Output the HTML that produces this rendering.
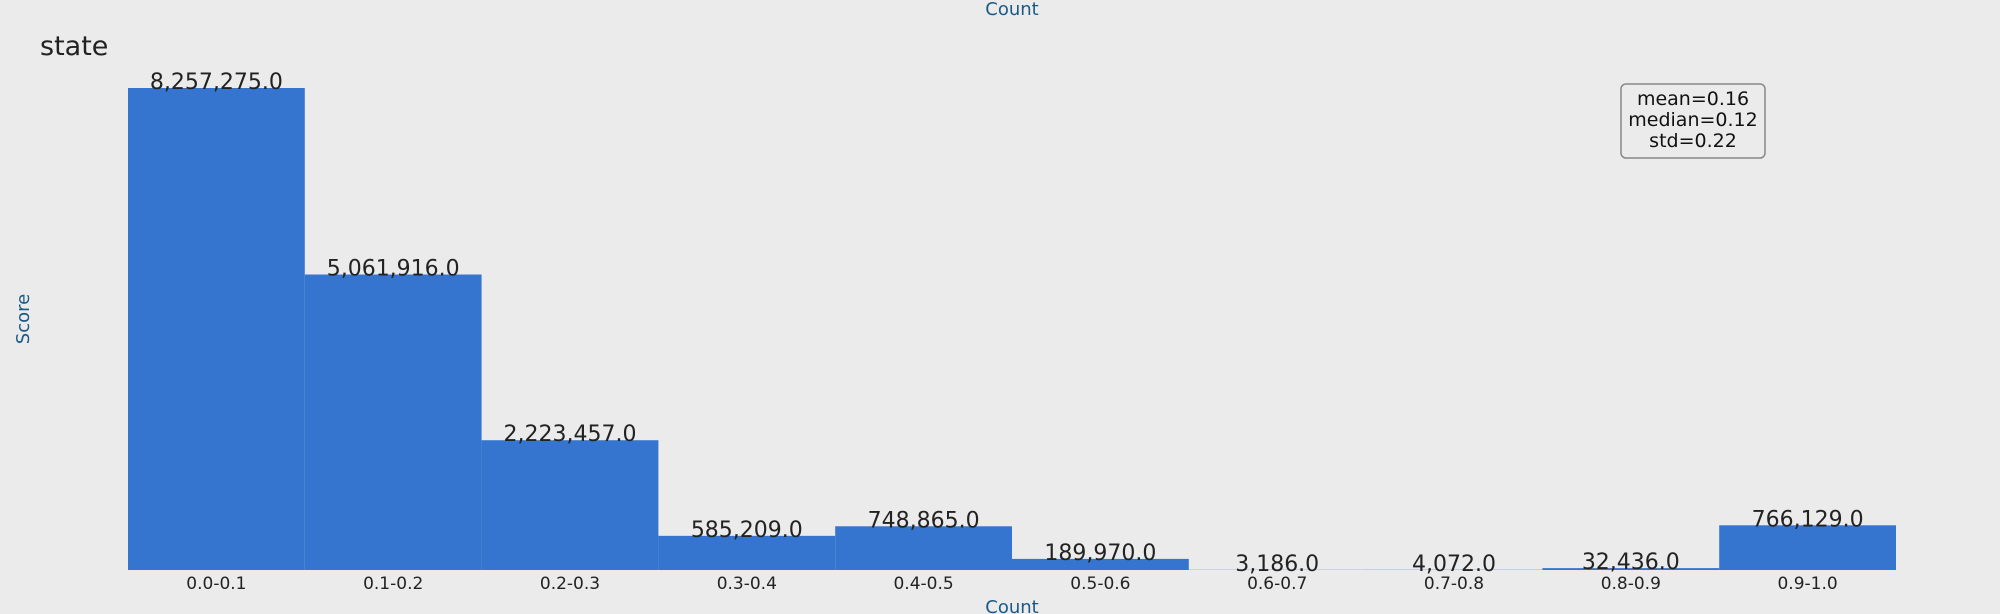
<!DOCTYPE html>
<html><head><meta charset="utf-8"><style>
html,body{margin:0;padding:0;background:#ebebeb;}
svg{display:block;font-family:"DejaVu Sans","Liberation Sans",sans-serif;}
</style></head><body>
<svg id="chart" width="2000" height="614" viewBox="0 0 2000 614">
<rect x="0" y="0" width="2000" height="614" fill="#ebebeb"/>
<text x="40" y="55" font-size="27" fill="#222">state</text>
<text x="1012" y="15" font-size="18" fill="#1a5a85" text-anchor="middle">Count</text>
<text x="1012" y="613" font-size="18" fill="#1a5a85" text-anchor="middle">Count</text>
<text x="0" y="0" font-size="18" fill="#1a5a85" text-anchor="middle" transform="translate(29,319) rotate(-90)">Score</text>
<g id="bars"></g>
<g>
<rect x="1621" y="84" width="144" height="74" rx="5" fill="#ebebeb" stroke="#888" stroke-width="1.5"/>
<text x="1693" y="105" font-size="19" fill="#111" text-anchor="middle">mean=0.16</text>
<text x="1693" y="126" font-size="19" fill="#111" text-anchor="middle">median=0.12</text>
<text x="1693" y="147" font-size="19" fill="#111" text-anchor="middle">std=0.22</text>
</g>
</svg>
<script>
const categories = ["0.0-0.1","0.1-0.2","0.2-0.3","0.3-0.4","0.4-0.5","0.5-0.6","0.6-0.7","0.7-0.8","0.8-0.9","0.9-1.0"];
const counts = [8257275,5061916,2223457,585209,748865,189970,3186,4072,32436,766129];
const valueLabels = ["8,257,275.0","5,061,916.0","2,223,457.0","585,209.0","748,865.0","189,970.0","3,186.0","4,072.0","32,436.0","766,129.0"];

const NS = "http://www.w3.org/2000/svg";
const x0 = 128, x1 = 1896, yBase = 570, yTop = 88;
const yMax = Math.max(...counts);
const bw = (x1 - x0) / categories.length;
function xScale(i){ return x0 + i * bw; }
function yScale(v){ return yBase - v / yMax * (yBase - yTop); }
const g = document.getElementById('bars');
categories.forEach((c, i) => {
  const y = yScale(counts[i]);
  const r = document.createElementNS(NS, 'rect');
  
  
  r.setAttribute('x', xScale(i));
  r.setAttribute('y', y);
  r.setAttribute('width', bw);
  r.setAttribute('height', yBase - y);
  r.setAttribute('fill', '#3575cf');
  g.appendChild(r);
  const t = document.createElementNS(NS, 'text');
  
  
  t.setAttribute('x', xScale(i) + bw / 2);
  t.setAttribute('y', y + 1);
  t.setAttribute('font-size', '22');
  t.setAttribute('fill', '#222');
  t.setAttribute('text-anchor', 'middle');
  t.textContent = valueLabels[i];
  g.appendChild(t);
  const l = document.createElementNS(NS, 'text');
  
  
  l.setAttribute('x', xScale(i) + bw / 2);
  l.setAttribute('y', 589);
  l.setAttribute('font-size', '17');
  l.setAttribute('fill', '#222');
  l.setAttribute('text-anchor', 'middle');
  l.textContent = c;
  g.appendChild(l);
});
</script>
</body></html>
